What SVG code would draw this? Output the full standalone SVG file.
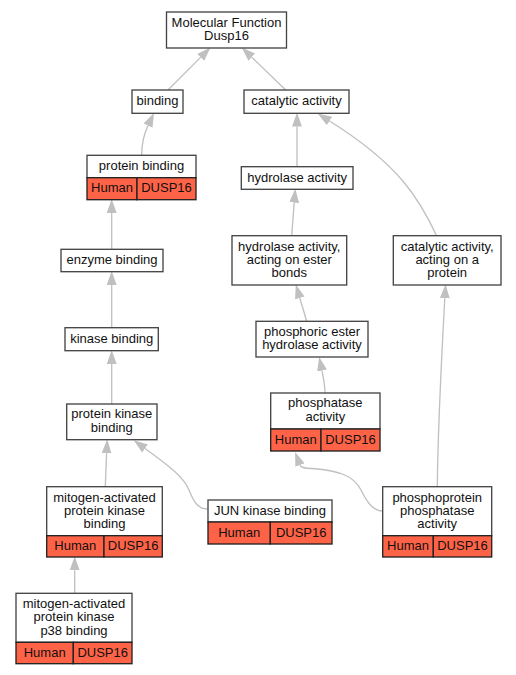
<svg xmlns="http://www.w3.org/2000/svg" width="516" height="675" viewBox="0 0 516 675">
<style>
.box{fill:#fff;stroke:#444;stroke-width:1.33}
.red{fill:#ff6347;stroke:#222;stroke-width:1.33}
.t{font-family:"Liberation Sans",Arial,sans-serif;font-size:13px;fill:#111;text-anchor:middle}
.e{fill:none;stroke:#c0c0c0;stroke-width:1.33;marker-end:url(#ah)}
</style>
<defs>
<marker id="ah" markerUnits="userSpaceOnUse" markerWidth="14" markerHeight="10" viewBox="0 0 13.3 9.4" refX="0" refY="4.7" orient="auto">
<path d="M0,0 L13.3,4.7 L0,9.4 z" fill="#c0c0c0"/>
</marker>
</defs>
<rect width="516" height="675" fill="#fff"/>
<g id="edges">
<path class="e" d="M168,90 L200.6,57.4"/>
<path class="e" d="M285.7,90 L251.8,57.2"/>
<path class="e" d="M141.7,155 C141.7,142 144.5,133 148,125.6"/>
<path class="e" d="M297,166.7 L297,126.6"/>
<path class="e" d="M436.7,236 C420,200 400,165 329.5,121"/>
<path class="e" d="M291.7,235.7 L294.2,202.6"/>
<path class="e" d="M306.7,321.3 L299.8,298"/>
<path class="e" d="M325,393 C325,385 323.5,378 322,370.6"/>
<path class="e" d="M111.7,249.3 L111.7,213"/>
<path class="e" d="M111.7,327.7 L111.7,285"/>
<path class="e" d="M111.7,404 L111.7,364"/>
<path class="e" d="M437.3,486.7 C438,420 442,350 444.8,298.3"/>
<path class="e" d="M382.7,511 C372,511 366,500 361,490 C353,474 335,471 318,469 C308,468 301.5,469 300,465"/>
<path class="e" d="M105.3,486.7 L106.6,453.3"/>
<path class="e" d="M207.5,509 C197,509 193,500 189,490 C184,478 172,468 145,448.5"/>
<path class="e" d="M74.7,593.3 L74.7,570.3"/>
</g>
<g id="root">
<rect class="box" x="166.5" y="12" width="120" height="36"/>
<text class="t" x="226.5" y="26.6">Molecular Function</text>
<text class="t" x="226.5" y="39.9">Dusp16</text>
</g>
<g id="binding">
<rect class="box" x="132" y="90" width="51" height="23.3"/>
<text class="t" x="157.5" y="105.2">binding</text>
</g>
<g id="catalytic">
<rect class="box" x="244" y="90" width="105" height="23.3"/>
<text class="t" x="296.5" y="105.2">catalytic activity</text>
</g>
<g id="protein_binding">
<rect class="box" x="87" y="155.3" width="109" height="22.4"/>
<rect class="red" x="87" y="177.7" width="50" height="22"/>
<rect class="red" x="137" y="177.7" width="59" height="22"/>
<text class="t" x="141.5" y="170">protein binding</text>
<text class="t" x="112" y="192.2">Human</text>
<text class="t" x="166.5" y="192.2">DUSP16</text>
</g>
<g id="hydrolase">
<rect class="box" x="241.3" y="166.7" width="111.7" height="22.6"/>
<text class="t" x="297.2" y="181.5">hydrolase activity</text>
</g>
<g id="enzyme_binding">
<rect class="box" x="61" y="249.3" width="102" height="22.4"/>
<text class="t" x="112" y="264">enzyme binding</text>
</g>
<g id="hydrolase_ester">
<rect class="box" x="232" y="235.7" width="114.7" height="49.3"/>
<text class="t" x="289.3" y="250.6">hydrolase activity,</text>
<text class="t" x="289.3" y="263.9">acting on ester</text>
<text class="t" x="289.3" y="277.2">bonds</text>
</g>
<g id="catalytic_protein">
<rect class="box" x="393.3" y="235.7" width="107.7" height="49.3"/>
<text class="t" x="447.2" y="250.6">catalytic activity,</text>
<text class="t" x="447.2" y="263.9">acting on a</text>
<text class="t" x="447.2" y="277.2">protein</text>
</g>
<g id="kinase_binding">
<rect class="box" x="65" y="327.7" width="93.3" height="23"/>
<text class="t" x="111.7" y="342.7">kinase binding</text>
</g>
<g id="phosphoric">
<rect class="box" x="256" y="321.3" width="112" height="35.7"/>
<text class="t" x="312" y="335.5">phosphoric ester</text>
<text class="t" x="312" y="348.8">hydrolase activity</text>
</g>
<g id="protein_kinase_binding">
<rect class="box" x="66.7" y="404" width="90.3" height="35.7"/>
<text class="t" x="111.8" y="418.2">protein kinase</text>
<text class="t" x="111.8" y="431.5">binding</text>
</g>
<g id="phosphatase">
<rect class="box" x="270.7" y="393" width="109.3" height="36"/>
<rect class="red" x="270.7" y="429" width="50.3" height="22"/>
<rect class="red" x="321" y="429" width="59" height="22"/>
<text class="t" x="325.3" y="407.4">phosphatase</text>
<text class="t" x="325.3" y="420.7">activity</text>
<text class="t" x="295.8" y="443.5">Human</text>
<text class="t" x="350.5" y="443.5">DUSP16</text>
</g>
<g id="mitogen">
<rect class="box" x="46.7" y="486.7" width="115.6" height="49"/>
<rect class="red" x="46.7" y="535.7" width="57.3" height="21.3"/>
<rect class="red" x="104" y="535.7" width="58.3" height="21.3"/>
<text class="t" x="104.5" y="501.5">mitogen-activated</text>
<text class="t" x="104.5" y="514.8">protein kinase</text>
<text class="t" x="104.5" y="528.1">binding</text>
<text class="t" x="75.3" y="549.8">Human</text>
<text class="t" x="133.1" y="549.8">DUSP16</text>
</g>
<g id="jun">
<rect class="box" x="208" y="500" width="124" height="22"/>
<rect class="red" x="208" y="522" width="62.3" height="22"/>
<rect class="red" x="270.3" y="522" width="61.7" height="22"/>
<text class="t" x="270" y="514.5">JUN kinase binding</text>
<text class="t" x="239.2" y="536.5">Human</text>
<text class="t" x="301.2" y="536.5">DUSP16</text>
</g>
<g id="phosphoprotein">
<rect class="box" x="382.7" y="486.7" width="109" height="49"/>
<rect class="red" x="382.7" y="535.7" width="50.6" height="21.3"/>
<rect class="red" x="433.3" y="535.7" width="58.4" height="21.3"/>
<text class="t" x="437.2" y="501.5">phosphoprotein</text>
<text class="t" x="437.2" y="514.8">phosphatase</text>
<text class="t" x="437.2" y="528.1">activity</text>
<text class="t" x="408" y="549.8">Human</text>
<text class="t" x="462.5" y="549.8">DUSP16</text>
</g>
<g id="p38">
<rect class="box" x="16" y="593.3" width="116" height="49"/>
<rect class="red" x="16" y="642.3" width="57.3" height="21.4"/>
<rect class="red" x="73.3" y="642.3" width="58.7" height="21.4"/>
<text class="t" x="74" y="608.1">mitogen-activated</text>
<text class="t" x="74" y="621.4">protein kinase</text>
<text class="t" x="74" y="634.7">p38 binding</text>
<text class="t" x="44.7" y="656.5">Human</text>
<text class="t" x="102.7" y="656.5">DUSP16</text>
</g>
</svg>
